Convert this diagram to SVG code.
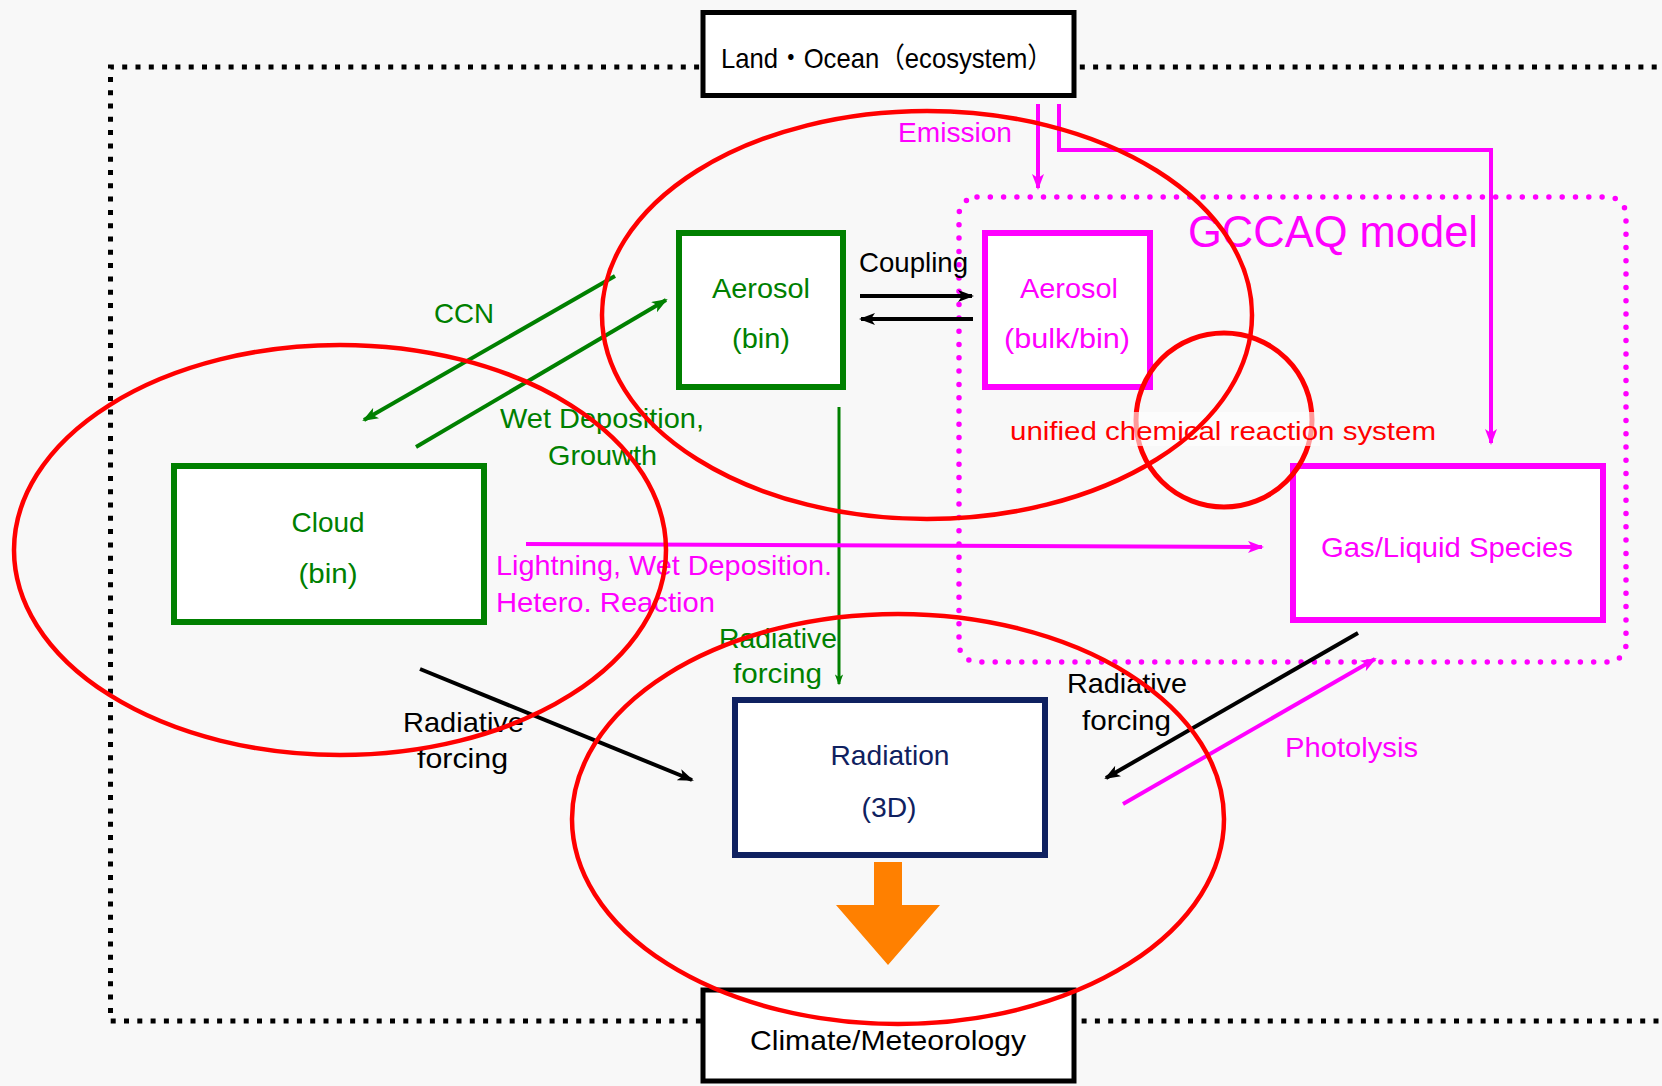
<svg xmlns="http://www.w3.org/2000/svg" width="1662" height="1086" viewBox="0 0 1662 1086">
<style>
text{font-family:"Liberation Sans","Noto Sans CJK JP",sans-serif;font-size:28px}
.g{fill:#008000}.m{fill:#FF00FF}.k{fill:#000}.r{fill:#FF0000}.n{fill:#0F2160}
.c{text-anchor:middle}
.ell{fill:none;stroke:#FF0000;stroke-width:4.5}
</style>
<defs>
<marker id="ak" viewBox="0 0 16 12" markerWidth="16" markerHeight="12" refX="14" refY="6" orient="auto" markerUnits="userSpaceOnUse"><path d="M0,0 L16,6 L0,12 L4,6 z" fill="#000"/></marker>
<marker id="ag" viewBox="0 0 16 12" markerWidth="16" markerHeight="12" refX="14" refY="6" orient="auto" markerUnits="userSpaceOnUse"><path d="M0,0 L16,6 L0,12 L4,6 z" fill="#008000"/></marker>
<marker id="ags" viewBox="0 0 16 12" markerWidth="11" markerHeight="9" refX="14" refY="6" orient="auto" markerUnits="userSpaceOnUse"><path d="M0,0 L16,6 L0,12 L4,6 z" fill="#008000"/></marker>
<marker id="am" viewBox="0 0 16 12" markerWidth="16" markerHeight="12" refX="14" refY="6" orient="auto" markerUnits="userSpaceOnUse"><path d="M0,0 L16,6 L0,12 L4,6 z" fill="#FF00FF"/></marker>
</defs>
<rect width="1662" height="1086" fill="#F8F8F8"/>

<!-- outer dotted frame -->
<path d="M1670,67 H110.5 V1021 H1670" fill="none" stroke="#000" stroke-width="5" stroke-dasharray="5 8.3"/>
<!-- GCCAQ model frame -->
<g id="gccaq">
<rect x="959" y="197" width="667" height="465" rx="18" fill="none" stroke="#FF00FF" stroke-width="5.5" stroke-dasharray="0 13.3" stroke-linecap="round"/>
<text x="1188" y="247" class="m" style="font-size:44px" textLength="290" lengthAdjust="spacingAndGlyphs">GCCAQ model</text>
</g>

<g id="connectors" fill="none">
<line x1="1038" y1="104" x2="1038" y2="188" stroke="#FF00FF" stroke-width="4" marker-end="url(#am)"/>
<path d="M1059,104 V150 H1491 V443" stroke="#FF00FF" stroke-width="4" marker-end="url(#am)"/>
<line x1="860" y1="296" x2="972" y2="296" stroke="#000" stroke-width="4" marker-end="url(#ak)"/>
<line x1="973" y1="319" x2="861" y2="319" stroke="#000" stroke-width="4" marker-end="url(#ak)"/>
<line x1="615" y1="276" x2="364" y2="420" stroke="#008000" stroke-width="4" marker-end="url(#ag)"/>
<line x1="416" y1="447" x2="666" y2="300" stroke="#008000" stroke-width="4" marker-end="url(#ag)"/>
<line x1="839" y1="407" x2="839" y2="684" stroke="#008000" stroke-width="3" marker-end="url(#ags)"/>
<line x1="526" y1="544" x2="1262" y2="547" stroke="#FF00FF" stroke-width="4" marker-end="url(#am)"/>
<line x1="420" y1="669" x2="692" y2="780" stroke="#000" stroke-width="4" marker-end="url(#ak)"/>
<line x1="1358" y1="633" x2="1106" y2="778" stroke="#000" stroke-width="4" marker-end="url(#ak)"/>
<line x1="1123" y1="804" x2="1375" y2="659" stroke="#FF00FF" stroke-width="4" marker-end="url(#am)"/>
<path d="M874,862 H902 V905 H940 L888,965 L836,905 H874 Z" fill="#FF8000"/>
</g>

<g id="land-ocean">
<rect x="703" y="12.5" width="371" height="83" fill="#fff" stroke="#000" stroke-width="5"/>
<text x="721" y="68" class="k" textLength="332" lengthAdjust="spacingAndGlyphs">Land・Ocean（ecosystem）</text>
</g>
<g id="climate">
<rect x="703" y="990" width="371" height="91" fill="#fff" stroke="#000" stroke-width="5"/>
<text x="750" y="1050" class="k" textLength="276" lengthAdjust="spacingAndGlyphs">Climate/Meteorology</text>
</g>
<g id="aerosol-bin">
<rect x="679" y="233" width="164" height="154" fill="#fff" stroke="#008000" stroke-width="6"/>
<text x="761" y="298" class="g c" textLength="98" lengthAdjust="spacingAndGlyphs">Aerosol</text>
<text x="761" y="348" class="g c" textLength="58" lengthAdjust="spacingAndGlyphs">(bin)</text>
</g>
<g id="aerosol-bulk">
<rect x="985" y="233" width="165" height="154" fill="#fff" stroke="#FF00FF" stroke-width="6"/>
<text x="1069" y="298" class="m c" textLength="98" lengthAdjust="spacingAndGlyphs">Aerosol</text>
<text x="1067" y="348" class="m c" textLength="126" lengthAdjust="spacingAndGlyphs">(bulk/bin)</text>
</g>
<g id="cloud">
<rect x="174" y="466" width="310" height="156" fill="#fff" stroke="#008000" stroke-width="6"/>
<text x="328" y="532" class="g c" textLength="73" lengthAdjust="spacingAndGlyphs">Cloud</text>
<text x="328" y="583" class="g c" textLength="59" lengthAdjust="spacingAndGlyphs">(bin)</text>
</g>
<g id="gas-liquid">
<rect x="1293" y="466" width="310" height="154" fill="#fff" stroke="#FF00FF" stroke-width="6"/>
<text x="1321" y="557" class="m" textLength="252" lengthAdjust="spacingAndGlyphs">Gas/Liquid Species</text>
</g>
<g id="radiation">
<rect x="735" y="700" width="310" height="155" fill="#fff" stroke="#0F2160" stroke-width="6"/>
<text x="890" y="765" class="n c" textLength="119" lengthAdjust="spacingAndGlyphs">Radiation</text>
<text x="889" y="817" class="n c" textLength="55" lengthAdjust="spacingAndGlyphs">(3D)</text>
</g>

<g id="labels">
<text x="898" y="142" class="m" textLength="114" lengthAdjust="spacingAndGlyphs">Emission</text>
<text x="859" y="272" class="k" textLength="109" lengthAdjust="spacingAndGlyphs">Coupling</text>
<text x="434" y="323" class="g" textLength="60" lengthAdjust="spacingAndGlyphs">CCN</text>
<text x="500" y="428" class="g" textLength="204" lengthAdjust="spacingAndGlyphs">Wet Deposition,</text>
<text x="548" y="465" class="g" textLength="109" lengthAdjust="spacingAndGlyphs">Grouwth</text>
<text x="496" y="575" class="m" textLength="336" lengthAdjust="spacingAndGlyphs">Lightning, Wet Deposition.</text>
<text x="496" y="612" class="m" textLength="219" lengthAdjust="spacingAndGlyphs">Hetero. Reaction</text>
<text x="719" y="648" class="g" textLength="118" lengthAdjust="spacingAndGlyphs">Radiative</text>
<text x="733" y="683" class="g" textLength="89" lengthAdjust="spacingAndGlyphs">forcing</text>
<text x="403" y="732" class="k" textLength="121" lengthAdjust="spacingAndGlyphs">Radiative</text>
<text x="417" y="768" class="k" textLength="91" lengthAdjust="spacingAndGlyphs">forcing</text>
<text x="1067" y="693" class="k" textLength="120" lengthAdjust="spacingAndGlyphs">Radiative</text>
<text x="1082" y="730" class="k" textLength="89" lengthAdjust="spacingAndGlyphs">forcing</text>
<text x="1285" y="757" class="m" textLength="133" lengthAdjust="spacingAndGlyphs">Photolysis</text>
</g>

<g id="unified">
<ellipse cx="1224" cy="420" rx="88" ry="87" fill="none" stroke="#FF0000" stroke-width="5"/>
<rect x="1130" y="412" width="190" height="34" fill="#fff" opacity="0.6"/>
<text x="1010" y="440" class="r" style="font-size:26px" textLength="426" lengthAdjust="spacingAndGlyphs">unified chemical reaction system</text>
</g>

<g id="highlights">
<ellipse cx="927" cy="315" rx="325" ry="204" class="ell"/>
<ellipse cx="340" cy="550" rx="326" ry="205" class="ell"/>
<ellipse cx="898" cy="819" rx="326" ry="205" class="ell"/>
</g>
</svg>
